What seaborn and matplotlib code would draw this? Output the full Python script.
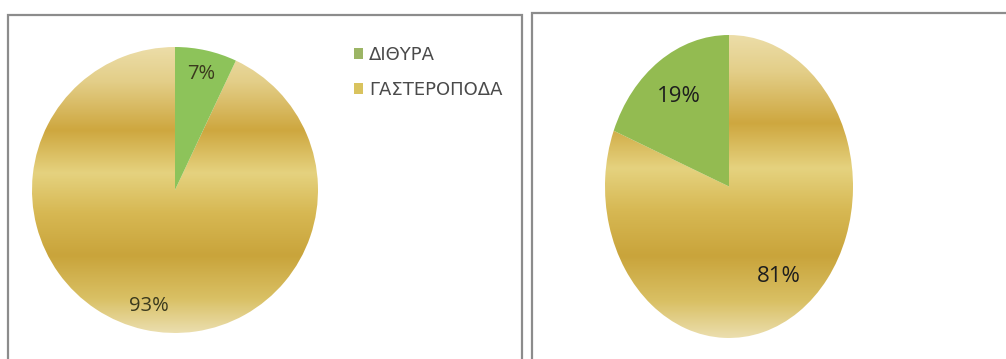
import numpy as np
import matplotlib
matplotlib.use("Agg")
import matplotlib.pyplot as plt
from matplotlib.colors import LinearSegmentedColormap
from matplotlib.patches import Patch, Rectangle
import seaborn as sns

# Shares of bivalves vs gastropods in two samples
categories = ["ΔΙΘΥΡΑ", "ΓΑΣΤΕΡΟΠΟΔΑ"]
sample_a = [7, 93]
sample_b = [19, 81]

sns.set_theme(style="white")
plt.rcParams["font.family"] = ["Open Sans", "DejaVu Sans"]

W, H = 1006, 359
fig = plt.figure(figsize=(W / 100, H / 100), dpi=100)
fig.patch.set_facecolor("white")

# Gold fill: horizontal light/dark banding, top to bottom
gold_cmap = LinearSegmentedColormap.from_list(
    "gold_bands",
    [(0.00, "#ecdda8"), (0.12, "#e3ce88"), (0.29, "#cea73f"),
     (0.44, "#e5d27f"), (0.58, "#d7b853"), (0.73, "#c9a43b"),
     (0.88, "#d9c064"), (1.00, "#ebdeae")],
)
gradient = np.linspace(0, 1, 256).reshape(-1, 1)


def px_axes(x0, y0, x1, y1):
    """Axes from pixel box (top-left origin)."""
    return fig.add_axes([x0 / W, 1 - y1 / H, (x1 - x0) / W, (y1 - y0) / H])


def gold_fill(ax, wedge):
    wedge.set_facecolor("none")
    im = ax.imshow(gradient, cmap=gold_cmap, extent=(-1, 1, -1, 1),
                   aspect="auto", origin="upper", zorder=0.5)
    im.set_clip_path(wedge)


# Panel frames
fig.patches.append(Rectangle((8 / W, -0.05), 514 / W, (H - 15) / H + 0.05,
                             transform=fig.transFigure, fill=False,
                             edgecolor="#8c8c8c", lw=1.6))
fig.patches.append(Rectangle((532 / W, -0.05), 480 / W, (H - 13) / H + 0.05,
                             transform=fig.transFigure, fill=False,
                             edgecolor="#8c8c8c", lw=1.6))

# Left pie (circular) with legend
ax1 = px_axes(32, 47, 318, 333)
wedges1, _, auto1 = ax1.pie(
    sample_a, startangle=90, counterclock=False, radius=1,
    colors=["#8dc35a", "#d8bd5a"], autopct="%1.0f%%", pctdistance=0.83,
    wedgeprops=dict(linewidth=0),
    textprops=dict(fontsize=14.5, color="#3b3a1e"),
)
gold_fill(ax1, wedges1[1])
ax1.set_xlim(-1, 1)
ax1.set_ylim(-1, 1)
ax1.set_aspect("auto")
ax1.axis("off")

handles = [Patch(facecolor="#9cb565", edgecolor="none"),
           Patch(facecolor="#d9c35e", edgecolor="none")]
leg = fig.legend(handles, categories, loc="upper left",
                 bbox_to_anchor=(354 / W, 1 - 46 / H), frameon=False,
                 prop=dict(family="DejaVu Sans", size=13),
                 handlelength=0.5, handleheight=0.5,
                 handletextpad=0.35, labelspacing=0.94, labelcolor="#4a4a4a",
                 borderaxespad=0, borderpad=0)

# Right pie (stretched vertically into an ellipse)
ax2 = px_axes(605, 35, 853, 338)
wedges2, _, auto2 = ax2.pie(
    sample_b, startangle=90, counterclock=True, radius=1,
    colors=["#93bb51", "#d8bd5a"], autopct="%1.0f%%", pctdistance=0.72,
    wedgeprops=dict(linewidth=0),
    textprops=dict(fontsize=16, color="#1e1e1e"),
)
gold_fill(ax2, wedges2[1])
ax2.set_xlim(-1, 1)
ax2.set_ylim(-1, 1)
ax2.set_aspect("auto")
ax2.axis("off")

fig.savefig("out.png", dpi=100, facecolor="white")
